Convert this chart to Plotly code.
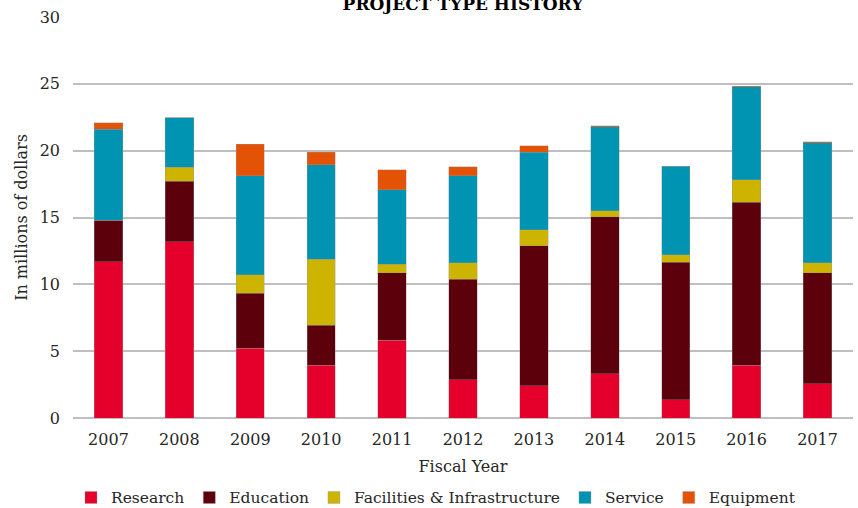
import plotly.graph_objects as go

years = ["2007", "2008", "2009", "2010", "2011", "2012", "2013", "2014", "2015", "2016", "2017"]
research = [11.7, 13.2, 5.2, 3.95, 5.8, 2.87, 2.42, 3.32, 1.35, 3.95, 2.57]
education = [3.1, 4.5, 4.15, 3.0, 5.05, 7.5, 10.48, 11.73, 10.32, 12.18, 8.31]
facilities = [0.0, 1.05, 1.38, 4.93, 0.67, 1.23, 1.17, 0.45, 0.56, 1.7, 0.72]
service = [6.8, 3.7, 7.4, 7.05, 5.55, 6.53, 5.81, 6.3, 6.62, 6.95, 9.0]
equipment = [0.5, 0.0, 2.35, 0.95, 1.5, 0.65, 0.47, 0.08, 0.0, 0.05, 0.08]

series = [
    ("Research", research, "#E4002B"),
    ("Education", education, "#5C000B"),
    ("Facilities & Infrastructure", facilities, "#CDB400"),
    ("Service", service, "#0093B2"),
    ("Equipment", equipment, "#E35205"),
]

FONT = "DejaVu Serif"
TXT = "#262626"

fig = go.Figure()
for name, vals, col in series:
    fig.add_trace(go.Bar(
        x=years, y=vals, name=name,
        marker=dict(color=col, line=dict(color="rgba(150,150,150,0.6)", width=0.6)),
    ))

fig.update_layout(
    barmode="stack",
    bargap=0.6,
    width=858, height=508,
    margin=dict(l=73, r=5, t=17, b=90),
    plot_bgcolor="white",
    paper_bgcolor="white",
    font=dict(family=FONT, size=16, color=TXT),
    title=dict(
        text="<b>PROJECT TYPE HISTORY</b>",
        x=463/858, xanchor="center",
        yref="container", y=0.993, yanchor="middle",
        font=dict(family=FONT, size=17, color="#000000"),
    ),
    xaxis=dict(
        title=dict(text="Fiscal Year", standoff=12, font=dict(size=16, color=TXT)),
        tickfont=dict(size=16, color=TXT),
        ticklabelstandoff=10,
        showgrid=False,
        showline=False,
        ticks="",
    ),
    yaxis=dict(
        title=dict(text="In millions of dollars", standoff=8, font=dict(size=16, color=TXT)),
        range=[0, 30],
        dtick=5,
        tickfont=dict(size=16, color=TXT),
        ticklabelstandoff=12,
        showgrid=True, gridcolor="#BFBFBF", gridwidth=1.5,
        zeroline=True, zerolinecolor="#BFBFBF", zerolinewidth=1.5,
        ticks="", ticklen=0,
    ),
    legend=dict(
        orientation="h",
        xref="container", x=436/858, xanchor="center",
        yref="container", y=0.02, yanchor="middle",
        font=dict(size=15.5, color=TXT),
        traceorder="normal",
    ),
)

fig.write_html("out.html", config={"displayModeBar": False},
               post_script="document.body.style.margin='0';")
